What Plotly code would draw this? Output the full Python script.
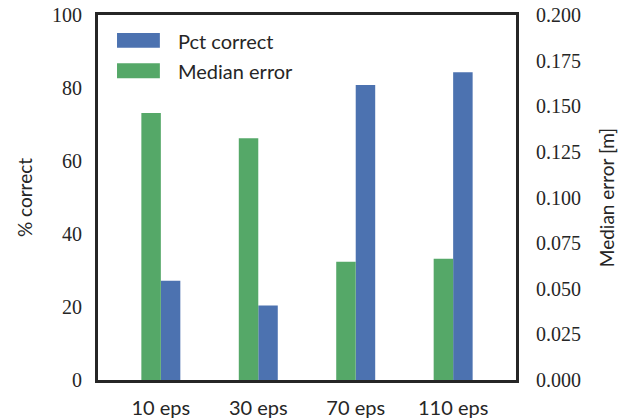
import plotly.graph_objects as go

categories = ["10 eps", "30 eps", "70 eps", "110 eps"]
pct_correct = [27.2, 20.4, 80.8, 84.3]
median_error = [0.1463, 0.1324, 0.0648, 0.0665]
left_ticks = [0, 20, 40, 60, 80, 100]
right_ticks = [0.0, 0.025, 0.05, 0.075, 0.1, 0.125, 0.15, 0.175, 0.2]
series_names = ["Pct correct", "Median error"]

BLUE = "#4C72B0"
GREEN = "#55A868"
DARK = "#262626"
SERIF = "Liberation Serif"
SANS = "Lato"

fig = go.Figure()
fig.add_trace(go.Bar(
    x=categories, y=pct_correct, name=series_names[0],
    marker=dict(color=BLUE, line=dict(width=0)),
    width=0.2, offset=0.0, yaxis="y", showlegend=False,
))
fig.add_trace(go.Bar(
    x=categories, y=median_error, name=series_names[1],
    marker=dict(color=GREEN, line=dict(width=0)),
    width=0.2, offset=-0.2, yaxis="y2", showlegend=False,
))

# legend drawn as swatches + text (matplotlib-style wide patches)
legend_colors = [BLUE, GREEN]
shapes = []
annotations = []
for i, (name, col) in enumerate(zip(series_names, legend_colors)):
    top = 0.951 - i * 0.083
    shapes.append(dict(type="rect", xref="paper", yref="paper",
                       x0=0.0455, x1=0.148, y0=top - 0.041, y1=top,
                       fillcolor=col, line=dict(width=0)))
    annotations.append(dict(xref="paper", yref="paper", x=0.186, y=top - 0.021,
                            xanchor="left", yanchor="middle", showarrow=False,
                            text=name, font=dict(family=SANS, size=20, color=DARK)))

fig.update_layout(
    template="none",
    width=630, height=420,
    margin=dict(l=98, r=114, t=15, b=40, autoexpand=False),
    plot_bgcolor="white", paper_bgcolor="white",
    showlegend=False,
    shapes=shapes, annotations=annotations,
    xaxis=dict(
        type="category", range=[-0.645, 3.645], automargin=False,
        tickmode="array", tickvals=categories, ticktext=categories,
        showgrid=False, zeroline=False,
        showline=True, linecolor=DARK, linewidth=3, mirror=True,
        ticks="outside", ticklen=8, tickcolor="rgba(0,0,0,0)",
        tickfont=dict(family=SANS, size=20, color=DARK),
    ),
    yaxis=dict(
        range=[0, 100], tickmode="array", tickvals=left_ticks, automargin=False,
        showgrid=False, zeroline=False,
        showline=True, linecolor=DARK, linewidth=3,
        ticks="outside", ticklen=9, tickcolor="rgba(0,0,0,0)",
        tickfont=dict(family=SERIF, size=20, color=DARK),
        title=dict(text="% correct", font=dict(family=SANS, size=19, color=DARK), standoff=15),
    ),
    yaxis2=dict(
        range=[0, 0.2], tickmode="array", tickvals=right_ticks, automargin=False,
        tickformat=".3f", overlaying="y", side="right",
        showgrid=False, zeroline=False,
        showline=True, linecolor=DARK, linewidth=3,
        ticks="outside", ticklen=13, tickcolor="rgba(0,0,0,0)",
        tickfont=dict(family=SERIF, size=20, color=DARK),
        title=dict(text="Median error [m]", font=dict(family=SANS, size=19, color=DARK), standoff=21),
    ),
)

fig.write_html("out.html", config={"displayModeBar": False},
               post_script="document.body.style.margin='0';")
